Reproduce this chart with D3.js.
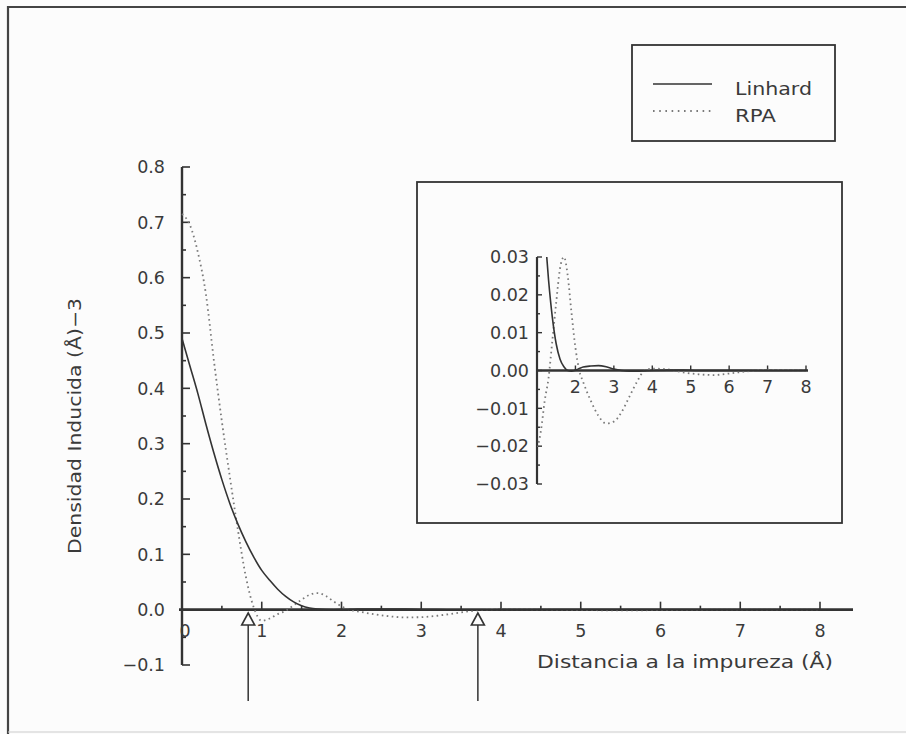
<!DOCTYPE html>
<html>
<head>
<meta charset="utf-8">
<script src="https://cdn.jsdelivr.net/npm/d3@7/dist/d3.min.js"></script>
<style>
  html, body { margin: 0; padding: 0; background: #fcfcfc; }
  svg { display: block; }
  text { font-family: "DejaVu Sans", sans-serif; fill: #3a3a3a; }
</style>
</head>
<body>
<svg id="chart" width="906" height="734"></svg>
<script>
// Induced electron density around an impurity: Lindhard vs RPA screening.
const distance = [0, 0.1, 0.2, 0.3, 0.4, 0.5, 0.6, 0.7, 0.8, 0.9, 1.0, 1.1, 1.2, 1.3, 1.4, 1.5,
  1.6, 1.7, 1.8, 1.9, 2.0, 2.1, 2.2, 2.4, 2.6, 2.8, 3.0, 3.2, 3.4, 3.6, 3.8, 4.0,
  4.4, 4.8, 5.2, 5.6, 6.0, 6.4, 7.0, 7.5, 8.0];

const linhard = [0.49, 0.44, 0.39, 0.335, 0.283, 0.235, 0.192, 0.155, 0.123, 0.095, 0.071, 0.053,
  0.037, 0.024, 0.014, 0.007, 0.003, 0.001, 0.0, -0.0002, 0.0001, 0.0005, 0.0009, 0.0012, 0.0013,
  0.001, 0.0004, 0.0, -0.0002, -0.0002, -0.0001, 0.0, 0.0001, 0.0001, 0, 0, 0, 0, 0, 0, 0];

const rpa = [0.715, 0.695, 0.645, 0.57, 0.45, 0.34, 0.24, 0.145, 0.06, 0.004, -0.02, -0.016,
  -0.008, -0.002, 0.008, 0.018, 0.027, 0.030, 0.025, 0.015, 0.006, 0.0, -0.003, -0.008, -0.012,
  -0.014, -0.0135, -0.011, -0.007, -0.003, 0.0, 0.0005, 0.0003, -0.0005, -0.001, -0.0012,
  -0.0008, -0.0003, 0.0002, 0.0001, 0];

const seriesNames = ["Linhard", "RPA"];
const mainXTicks = [0, 1, 2, 3, 4, 5, 6, 7, 8];
const mainYTicks = [-0.1, 0.0, 0.1, 0.2, 0.3, 0.4, 0.5, 0.6, 0.7, 0.8];
const insetXTicks = [2, 3, 4, 5, 6, 7, 8];
const insetYTicks = [-0.03, -0.02, -0.01, 0.0, 0.01, 0.02, 0.03];
const markerPositions = [0.83, 3.71];   // arrows under the distance axis

const xLabel = "Distancia a la impureza (Å)";
const yLabel = "Densidad Inducida (Å)−3";

const ink = "#333";
const dotInk = "#7a7a7a";
const fs = 17.5;
const svg = d3.select("#chart");

// Outer frame
svg.append("path")
  .attr("d", "M8,734 L8,7 L906,7")
  .attr("fill", "none").attr("stroke", "#444").attr("stroke-width", 2.2);
svg.append("line").attr("x1", 8).attr("x2", 906).attr("y1", 732).attr("y2", 732)
  .attr("stroke", "#ccc").attr("stroke-width", 1);

// ---------- Main panel ----------
const x = d3.scaleLinear().domain([0, 8]).range([182, 820]);
const y = d3.scaleLinear().domain([-0.1, 0.8]).range([665, 167]);

const main = svg.append("g");

// y axis: ticks point inward (right), minor ticks every 0.05
main.append("line").attr("x1", x(0)).attr("x2", x(0)).attr("y1", y(0.8)).attr("y2", y(-0.1))
  .attr("stroke", ink).attr("stroke-width", 2.4);
main.selectAll(".ytick").data(d3.range(-2, 17).map(i => i * 0.05)).join("line")
  .attr("x1", x(0)).attr("x2", (d, i) => x(0) + (i % 2 === 0 ? 8 : 4))
  .attr("y1", d => y(d)).attr("y2", d => y(d))
  .attr("stroke", ink).attr("stroke-width", 1.6);
main.selectAll(".ylab").data(mainYTicks).join("text")
  .attr("x", 165).attr("y", d => y(d)).attr("dy", "0.36em")
  .attr("text-anchor", "end").attr("font-size", fs)
  .text(d => (d < 0 ? "−" : "") + Math.abs(d).toFixed(1));

// x axis: ticks point up, minor ticks every 0.5
main.append("line").attr("x1", 179).attr("x2", 853).attr("y1", y(0)).attr("y2", y(0))
  .attr("stroke", ink).attr("stroke-width", 2.8);
main.selectAll(".xtick").data(d3.range(1, 17).map(i => i * 0.5)).join("line")
  .attr("x1", d => x(d)).attr("x2", d => x(d))
  .attr("y1", y(0)).attr("y2", (d, i) => y(0) - (i % 2 === 1 ? 8 : 4))
  .attr("stroke", ink).attr("stroke-width", 1.6);
main.selectAll(".xlab").data(mainXTicks).join("text")
  .attr("x", d => x(d) + (d === 0 ? 3 : 0)).attr("y", 637)
  .attr("text-anchor", "middle").attr("font-size", fs)
  .text(d => d);

// axis titles
main.append("text").attr("x", 685).attr("y", 668).attr("text-anchor", "middle")
  .attr("font-size", fs).attr("textLength", 296).attr("lengthAdjust", "spacingAndGlyphs")
  .text(xLabel);
main.append("text").attr("transform", "translate(81,426) rotate(-90)")
  .attr("text-anchor", "middle").attr("font-size", fs)
  .attr("textLength", 256).attr("lengthAdjust", "spacingAndGlyphs").text(yLabel);

// curves
const lineMain = d3.line().x(d => x(d[0])).y(d => y(d[1])).curve(d3.curveMonotoneX);
const linhardPts = distance.map((d, i) => [d, linhard[i]]);
const rpaPts = distance.map((d, i) => [d, rpa[i]]);
main.append("path").datum(rpaPts).attr("d", lineMain)
  .attr("fill", "none").attr("stroke", dotInk).attr("stroke-width", 1.8)
  .attr("stroke-dasharray", "1.6,3.4");
main.append("path").datum(linhardPts).attr("d", lineMain)
  .attr("fill", "none").attr("stroke", ink).attr("stroke-width", 1.6);

// arrows
markerPositions.forEach(m => {
  const g = main.append("g").attr("transform", `translate(${x(m)},0)`);
  g.append("line").attr("x1", 0).attr("x2", 0).attr("y1", 625).attr("y2", 701)
    .attr("stroke", ink).attr("stroke-width", 1.5);
  g.append("path").attr("d", "M0,613 L6.5,625 L-6.5,625 Z")
    .attr("fill", "#fcfcfc").attr("stroke", ink).attr("stroke-width", 1.6);
});

// ---------- Legend ----------
const legend = svg.append("g");
legend.append("rect").attr("x", 632).attr("y", 45).attr("width", 203).attr("height", 96)
  .attr("fill", "none").attr("stroke", ink).attr("stroke-width", 1.8);
legend.append("line").attr("x1", 653).attr("x2", 712).attr("y1", 84).attr("y2", 84)
  .attr("stroke", ink).attr("stroke-width", 1.6);
legend.append("line").attr("x1", 653).attr("x2", 712).attr("y1", 111).attr("y2", 111)
  .attr("stroke", dotInk).attr("stroke-width", 1.8).attr("stroke-dasharray", "1.6,4.6");
const legendWidths = [77, 41];
legend.selectAll(".lt").data(seriesNames).join("text")
  .attr("x", 735).attr("y", (d, i) => 89 + i * 27).attr("dy", "0.36em")
  .attr("font-size", fs).attr("textLength", (d, i) => legendWidths[i])
  .attr("lengthAdjust", "spacingAndGlyphs").text(d => d);

// ---------- Inset ----------
const inset = svg.append("g");
inset.append("rect").attr("x", 417).attr("y", 182).attr("width", 425).attr("height", 341)
  .attr("fill", "none").attr("stroke", ink).attr("stroke-width", 1.8);

const xi = d3.scaleLinear().domain([1, 8]).range([537, 806]);
const yi = d3.scaleLinear().domain([-0.03, 0.03]).range([484, 257]);

inset.append("line").attr("x1", xi(1)).attr("x2", xi(1)).attr("y1", yi(0.03)).attr("y2", yi(-0.03))
  .attr("stroke", ink).attr("stroke-width", 2.2);
inset.selectAll(".yti").data(d3.range(-6, 7).map(i => i * 0.005)).join("line")
  .attr("x1", xi(1)).attr("x2", (d, i) => xi(1) + (i % 2 === 0 ? 5 : 3))
  .attr("y1", d => yi(d)).attr("y2", d => yi(d))
  .attr("stroke", ink).attr("stroke-width", 1.4);
inset.selectAll(".yli").data(insetYTicks).join("text")
  .attr("x", 529).attr("y", d => yi(d)).attr("dy", "0.36em")
  .attr("text-anchor", "end").attr("font-size", fs)
  .text(d => (d < 0 ? "−" : "") + Math.abs(d).toFixed(2));

inset.append("line").attr("x1", xi(1)).attr("x2", xi(8) + 2).attr("y1", yi(0)).attr("y2", yi(0))
  .attr("stroke", ink).attr("stroke-width", 2.6);
inset.selectAll(".xti").data(d3.range(2, 9)).join("line")
  .attr("x1", d => xi(d)).attr("x2", d => xi(d))
  .attr("y1", yi(0)).attr("y2", yi(0) - 5)
  .attr("stroke", ink).attr("stroke-width", 1.4);
inset.selectAll(".xli").data(insetXTicks).join("text")
  .attr("x", d => xi(d)).attr("y", 393).attr("text-anchor", "middle")
  .attr("font-size", fs).text(d => d);

svg.append("clipPath").attr("id", "insetClip").append("rect")
  .attr("x", xi(1)).attr("y", yi(0.03)).attr("width", xi(8) - xi(1)).attr("height", yi(-0.03) - yi(0.03));

const lineInset = d3.line().x(d => xi(d[0])).y(d => yi(d[1])).curve(d3.curveMonotoneX);
const inInset = p => p[0] >= 0.9;
const curves = inset.append("g").attr("clip-path", "url(#insetClip)");
curves.append("path").datum(rpaPts.filter(inInset)).attr("d", lineInset)
  .attr("fill", "none").attr("stroke", dotInk).attr("stroke-width", 1.8)
  .attr("stroke-dasharray", "1.6,3.4");
curves.append("path").datum(linhardPts.filter(inInset)).attr("d", lineInset)
  .attr("fill", "none").attr("stroke", ink).attr("stroke-width", 1.6);
</script>
</body>
</html>
